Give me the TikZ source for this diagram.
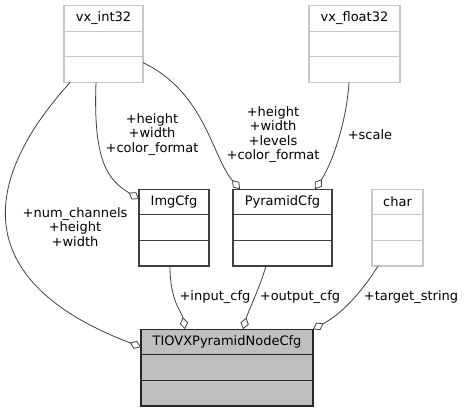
\documentclass[tikz,border=0pt]{standalone}
\usepackage{fontspec}
\setmainfont{DejaVu Sans}
\usetikzlibrary{arrows.meta,positioning}
\tikzstyle{cls}=[draw=black!75, line width=1.1pt, minimum height=25.6pt, inner sep=0pt, outer sep=0pt, font=\fontsize{13}{14.5}\selectfont]
\tikzstyle{ext}=[cls, draw=black!22]
\tikzstyle{main}=[cls, draw=black!85, fill=black!25]
\tikzstyle{member}=[align=center, inner sep=0pt, font=\fontsize{13}{14.5}\selectfont]
\tikzstyle{agg}=[draw=black!75, line width=0.8pt, -{Diamond[open,length=12pt,width=8.5pt]}]

\begin{document}
\begin{tikzpicture}[x=1pt, y=1pt]
    \useasboundingbox (0,0) rectangle (464,412);
    % main class
    \node (tiovx) [main, minimum width=172pt] at (227,70) {TIOVXPyramidNodeCfg};
    \node (tiovxa) [main, minimum width=172pt, below=0pt of tiovx] {};
    \node (tiovxb) [main, minimum width=172pt, below=0pt of tiovxa] {};
    %
    \node (img) [cls, minimum width=70pt] at (174,210) {ImgCfg};
    \node (imga) [cls, minimum width=70pt, below=0pt of img] {};
    \node (imgb) [cls, minimum width=70pt, below=0pt of imga] {};
    %
    \node (pyr) [cls, minimum width=99pt] at (282.5,210) {PyramidCfg};
    \node (pyra) [cls, minimum width=99pt, below=0pt of pyr] {};
    \node (pyrb) [cls, minimum width=99pt, below=0pt of pyra] {};
    %
    \node (chr) [ext, minimum width=51pt] at (397.5,210) {char};
    \node (chra) [ext, minimum width=51pt, below=0pt of chr] {};
    \node (chrb) [ext, minimum width=51pt, below=0pt of chra] {};
    %
    \node (int) [ext, minimum width=79pt] at (103.5,393.5) {vx\_int32};
    \node (inta) [ext, minimum width=79pt, below=0pt of int] {};
    \node (intb) [ext, minimum width=79pt, below=0pt of inta] {};
    %
    \node (flt) [ext, minimum width=91pt] at (354.5,393.5) {vx\_float32};
    \node (flta) [ext, minimum width=91pt, below=0pt of flt] {};
    \node (fltb) [ext, minimum width=91pt, below=0pt of flta] {};

    % members
    \node (numch) [member] at (75,185) {+num\_channels\\+height\\+width};
    \node (imgm) [member] at (152,277.5) {+height\\+width\\+color\_format};
    \node (pyrm) [member] at (273,277.5) {+height\\+width\\+levels\\+color\_format};
    \node (scl) [member] at (370,277) {+scale};
    \node (incfg) [member] at (215,115) {+input\_cfg};
    \node (outcfg) [member] at (300,115) {+output\_cfg};
    \node (tgt) [member] at (411,115) {+target\_string};
    %
    \draw [agg] ([xshift=6pt]intb.south west) .. controls (-20,230) and (-30,130) .. ([yshift=-5pt]tiovx.west);
    \draw [agg] ([xshift=32pt]intb.south west) .. controls (93,250) and (108,232) .. ([yshift=3pt]img.west);
    \draw [agg] ([yshift=7pt]intb.east) .. controls (205,320) and (212,255) .. ([xshift=7pt]pyr.north west);
    \draw [agg] ([xshift=-5.5pt]fltb.south) .. controls (346,285) and (330,245) .. ([xshift=-17pt]pyr.north east);
    \draw [agg] ([xshift=-4pt]imgb.south) .. controls (170,110) and (182,100) .. ([xshift=44pt]tiovx.north west);
    \draw [agg] ([xshift=-16.5pt]pyrb.south) .. controls (260,125) and (248,100) .. ([xshift=16pt]tiovx.north);
    \draw [agg] ([xshift=6pt]chrb.south west) .. controls (365,125) and (345,100) .. (tiovx.north east);
\end{tikzpicture}
\end{document}
